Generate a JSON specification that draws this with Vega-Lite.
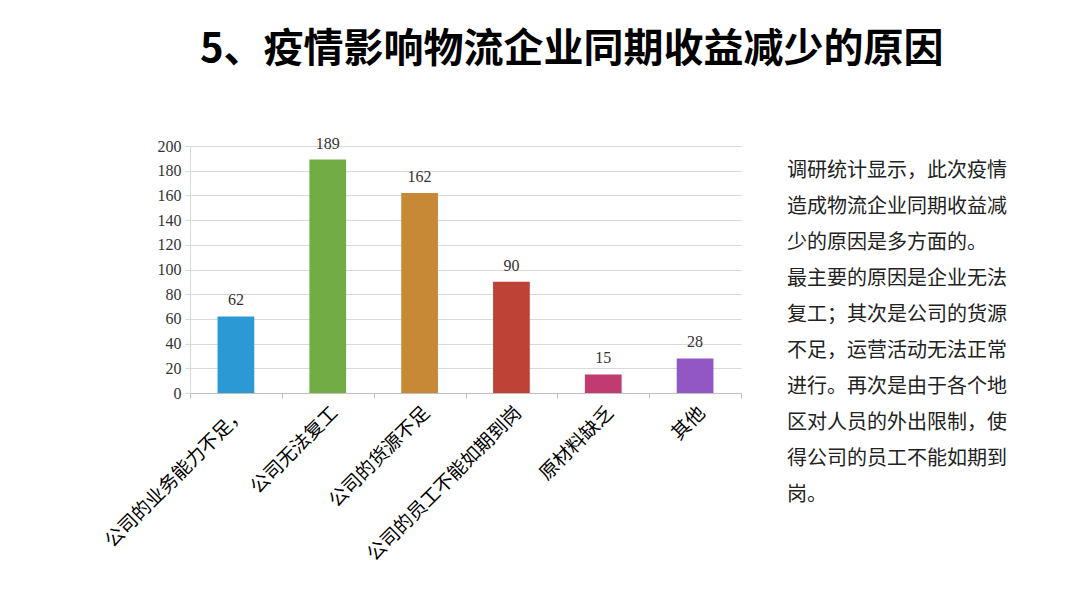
{
  "$schema": "https://vega.github.io/schema/vega-lite/v6.json",
  "background": "white",
  "padding": {"left": 101, "top": 29, "right": 5, "bottom": 5},
  "config": {"view": {"stroke": null}},
  "title": {
    "text": "5、疫情影响物流企业同期收益减少的原因",
    "font": "Noto Sans CJK SC",
    "fontSize": 40,
    "fontWeight": "bold",
    "color": "#000000",
    "anchor": "middle",
    "offset": 66
  },
  "hconcat": [
    {
      "width": 551,
      "height": 247,
      "data": {
        "values": [
          {"reason": "公司的业务能力不足，", "count": 62},
          {"reason": "公司无法复工", "count": 189},
          {"reason": "公司的货源不足", "count": 162},
          {"reason": "公司的员工不能如期到岗", "count": 90},
          {"reason": "原材料缺乏", "count": 15},
          {"reason": "其他", "count": 28}
        ]
      },
      "encoding": {
        "x": {
          "field": "reason",
          "type": "nominal",
          "sort": null,
          "scale": {"paddingInner": 0, "paddingOuter": 0},
          "axis": {
            "title": null,
            "labelAngle": -45,
            "labelFont": "Noto Sans CJK SC",
            "labelFontSize": 19,
            "labelColor": "#000000",
            "labelPadding": 5,
            "tickBand": "extent",
            "ticks": true,
            "tickSize": 5,
            "tickColor": "#bfbfbf",
            "domainColor": "#bfbfbf",
            "labelLimit": 400
          }
        },
        "y": {
          "field": "count",
          "type": "quantitative",
          "scale": {"domain": [0, 200]},
          "axis": {
            "title": null,
            "values": [0, 20, 40, 60, 80, 100, 120, 140, 160, 180, 200],
            "labelFont": "Liberation Serif",
            "labelFontSize": 16,
            "labelColor": "#333333",
            "gridColor": "#d9d9d9",
            "domainColor": "#d9d9d9",
            "tickColor": "#d9d9d9",
            "tickSize": 5,
            "labelPadding": 4
          }
        }
      },
      "layer": [
        {
          "mark": {"type": "bar", "width": {"band": 0.4}},
          "encoding": {
            "color": {
              "field": "reason",
              "type": "nominal",
              "sort": null,
              "legend": null,
              "scale": {
                "domain": ["公司的业务能力不足，", "公司无法复工", "公司的货源不足", "公司的员工不能如期到岗", "原材料缺乏", "其他"],
                "range": ["#2b9ad4", "#72ac44", "#c78935", "#bf4236", "#c23b70", "#9357c5"]
              }
            }
          }
        },
        {
          "mark": {"type": "text", "baseline": "bottom", "dy": -8, "font": "Liberation Serif", "fontSize": 16, "color": "#333333"},
          "encoding": {"text": {"field": "count", "type": "quantitative"}}
        }
      ]
    },
    {
      "width": 255,
      "height": {"step": 36},
      "data": {
        "values": [
          {"line": 1, "text": "调研统计显示，此次疫情"},
          {"line": 2, "text": "造成物流企业同期收益减"},
          {"line": 3, "text": "少的原因是多方面的。"},
          {"line": 4, "text": "最主要的原因是企业无法"},
          {"line": 5, "text": "复工；其次是公司的货源"},
          {"line": 6, "text": "不足，运营活动无法正常"},
          {"line": 7, "text": "进行。再次是由于各个地"},
          {"line": 8, "text": "区对人员的外出限制，使"},
          {"line": 9, "text": "得公司的员工不能如期到"},
          {"line": 10, "text": "岗。"}
        ]
      },
      "mark": {"type": "text", "align": "left", "baseline": "middle", "font": "Noto Sans CJK SC", "fontSize": 20, "color": "#222222"},
      "encoding": {
        "y": {"field": "line", "type": "ordinal", "scale": {"type": "point", "padding": 0.7}, "axis": null},
        "x": {"datum": 0, "type": "quantitative", "scale": {"domain": [0, 1]}, "axis": null},
        "text": {"field": "text", "type": "nominal"}
      }
    }
  ],
  "spacing": 45
}
